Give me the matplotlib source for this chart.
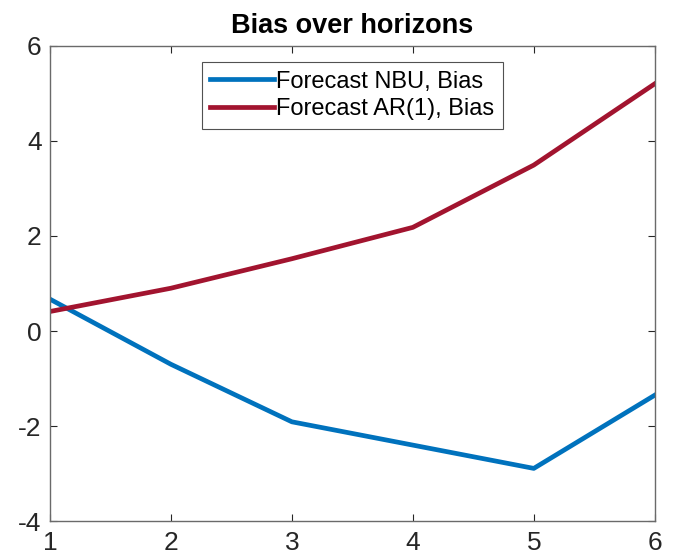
import matplotlib
matplotlib.use('Agg')
import matplotlib.pyplot as plt

plt.rcParams['font.family'] = ['Liberation Sans', 'DejaVu Sans']
plt.rcParams['axes.unicode_minus'] = False

# Горизонты прогноза и смещения
horizons = [1, 2, 3, 4, 5, 6]
bias_nbu = [0.67, -0.70, -1.91, -2.40, -2.89, -1.35]
bias_ar1 = [0.41, 0.90, 1.52, 2.18, 3.49, 5.20]

fig = plt.figure(figsize=(6.75, 5.58), dpi=100)
ax = fig.add_axes([0.074, 0.066, 0.896, 0.852])

ax.plot(horizons, bias_nbu, color='#0072BD', lw=3.4, label='Forecast NBU, Bias')
ax.plot(horizons, bias_ar1, color='#A2142F', lw=3.4, label='Forecast AR(1), Bias')

ax.set_xlim(1, 6)
ax.set_ylim(-4, 6)
ax.set_xticks(horizons)
ax.set_yticks([-4, -2, 0, 2, 4, 6])
ax.tick_params(direction='in', top=True, right=True, labelsize=19,
               colors='#262626', length=5, width=0.8)
ax.tick_params(axis='x', pad=7)
ax.tick_params(axis='y', pad=6)
for s in ax.spines.values():
    s.set_color('#6a6a6a')
    s.set_linewidth(1.0)

ax.set_title('Bias over horizons', fontsize=19.5, fontweight='bold', pad=9)
leg = ax.legend(loc='upper center', fontsize=17, handlelength=2.7,
                handletextpad=0.1, fancybox=False, edgecolor='#262626',
                borderaxespad=0.7, labelspacing=0.25, borderpad=0.35)
leg.get_frame().set_linewidth(0.8)

fig.savefig('out.png', dpi=100)
